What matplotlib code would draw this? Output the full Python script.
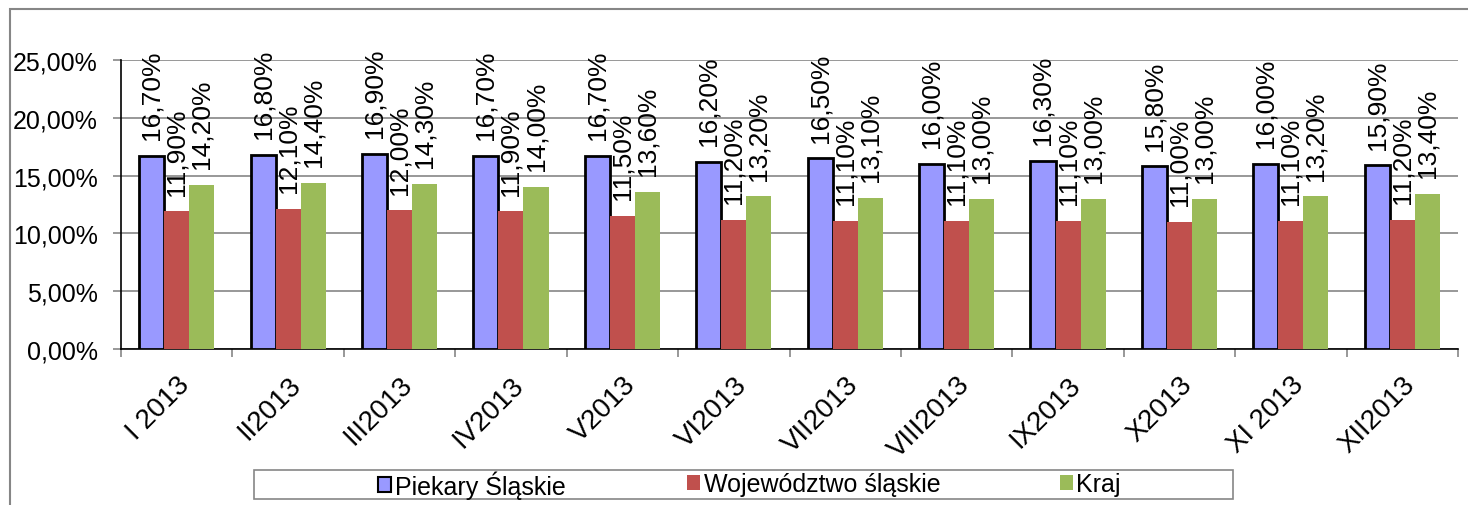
import matplotlib
matplotlib.use("Agg")
import matplotlib.pyplot as plt
from matplotlib.patches import Rectangle, Patch
import numpy as np

plt.rcParams['font.family'] = ['Liberation Sans', 'DejaVu Sans']

categories = ["I 2013", "II2013", "III2013", "IV2013", "V2013", "VI2013",
              "VII2013", "VIII2013", "IX2013", "X2013", "XI 2013", "XII2013"]
series_names = ["Piekary Śląskie", "Województwo śląskie", "Kraj"]
piekary = [16.7, 16.8, 16.9, 16.7, 16.7, 16.2, 16.5, 16.0, 16.3, 15.8, 16.0, 15.9]
wojewodztwo = [11.9, 12.1, 12.0, 11.9, 11.5, 11.2, 11.1, 11.1, 11.1, 11.0, 11.1, 11.2]
kraj = [14.2, 14.4, 14.3, 14.0, 13.6, 13.2, 13.1, 13.0, 13.0, 13.0, 13.2, 13.4]
y_ticks = [0, 5, 10, 15, 20, 25]

colors = ["#9999FF", "#C0504D", "#9BBB59"]
W, H = 1468, 506
fig = plt.figure(figsize=(W / 100, H / 100), dpi=100)
ax = fig.add_axes([121 / W, 1 - 350 / H, (1458 - 121) / W, (350 - 61) / H])

# outer chart border
fig.patches.append(Rectangle((10 / W, -0.1), 1.2, 1.1 - 10 / H, transform=fig.transFigure,
                             fill=False, edgecolor="#868686", linewidth=1.5, zorder=0))

x = np.arange(len(categories))
bw = 0.225
fs = 19
data = [piekary, wojewodztwo, kraj]
for i, (vals, c) in enumerate(zip(data, colors)):
    pos = x + (i - 1) * bw
    if i == 0:
        ax.bar(pos, vals, bw, color=c, edgecolor="black", linewidth=2, zorder=3)
    else:
        ax.bar(pos, vals, bw, color=c, edgecolor="none", zorder=3)
    for xp, v in zip(pos, vals):
        ax.annotate(f"{v:.2f}%".replace(".", ","), (xp, v), xytext=(0, 12),
                    textcoords="offset points", rotation=90, ha="center", va="bottom",
                    fontsize=fs, zorder=4)

ax.set_xlim(-0.5, len(categories) - 0.5)
ax.set_ylim(0, 25)
ax.set_yticks(y_ticks)
ax.set_yticklabels([f"{v:.2f}%".replace(".", ",") for v in y_ticks], fontsize=18)
ax.yaxis.grid(True, color="#868686", linewidth=1.2, zorder=0)
ax.set_axisbelow(True)
ax.tick_params(axis="y", length=5.8, color="#868686", width=1.2, pad=10.8)

ax.set_xticks(x)
ax.set_xticklabels(categories, rotation=45, ha="right", va="top",
                   rotation_mode="anchor", fontsize=fs + 1)
ax.tick_params(axis="x", which="major", length=0, pad=16)
ax.set_xticks(np.arange(-0.5, len(categories)), minor=True)
ax.tick_params(axis="x", which="minor", length=5.8, color="#868686", width=1.2)

for s in ["top", "right"]:
    ax.spines[s].set_visible(False)
ax.spines["left"].set_color("black")
ax.spines["bottom"].set_color("black")
ax.spines["left"].set_linewidth(1.2)
ax.spines["bottom"].set_linewidth(1.2)

# legend frame
fig.patches.append(Rectangle((254 / W, 1 - 500 / H), (1233 - 254) / W, 29 / H,
                             transform=fig.transFigure, fill=False,
                             edgecolor="#868686", linewidth=1.2))
handles = [Patch(facecolor=colors[0], edgecolor="black", linewidth=1.5),
           Patch(facecolor=colors[1], edgecolor="none"),
           Patch(facecolor=colors[2], edgecolor="none")]
legend_x = [378, 687, 1060]
for h, name, lx in zip(handles, series_names, legend_x):
    leg = fig.legend([h], [name], loc="center left", bbox_to_anchor=(lx / W, 1 - 485.5 / H),
                     frameon=False, fontsize=18, handlelength=0.5, handleheight=0.55,
                     handletextpad=0.16, borderpad=0, borderaxespad=0)

fig.savefig("out.png", dpi=100)
